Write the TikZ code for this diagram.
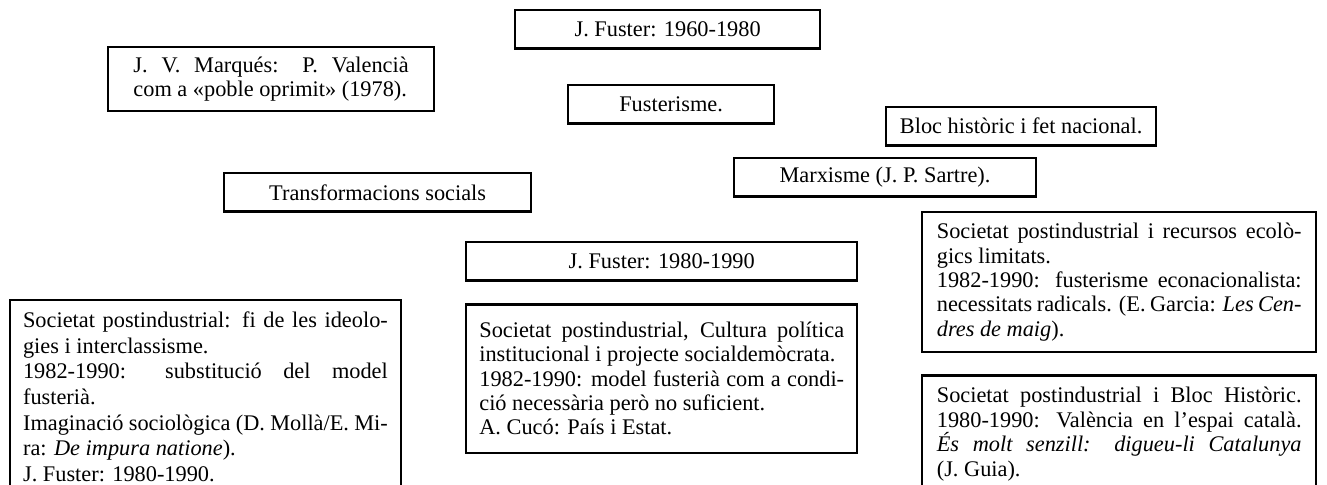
\documentclass[tikz,border=0pt]{standalone}
\usepackage{fontspec}
\setmainfont{Liberation Serif}
\usetikzlibrary{positioning}
\tolerance=10000
\hyphenpenalty=10000
\exhyphenpenalty=10000

\begin{document}
\begin{tikzpicture}[x=0.017cm,y=-0.017cm,font=\fontsize{10.8}{11.8}\selectfont,
                    title node/.style={draw,line width=1.1pt,anchor=north west,minimum height=0.65cm,inner sep=0pt},
                    text node/.style={draw,line width=1.1pt,anchor=north west,text width=6.2cm,align=justify,inner sep=0pt}]
\useasboundingbox[fill=white] (0,0) rectangle (1327,485);

\node[title node,minimum width=5.185cm] (1) at (514,9) {J. Fuster: 1960-1980};
\node[text node,text width=4.68cm,minimum width=5.54cm,minimum height=1.09cm] (2) at (107,46)
  {J. V. Marqués: P. Valencià\linebreak com a «poble oprimit» (1978).};
\node[title node,minimum width=3.5cm] (3) at (567,84) {Fusterisme.};
\node[title node,minimum width=4.59cm] (4) at (885,106) {Bloc històric i fet nacional.};
\node[title node,minimum width=5.13cm] (5) at (733,157) {Marxisme (J. P. Sartre).};
\node[title node,minimum width=5.22cm] (6) at (223,172) {Transformacions socials};
\node[title node,minimum width=6.65cm] (7) at (465,241) {J. Fuster: 1980-1990};

\node[text node,font=\fontsize{10.8}{12.4}\selectfont,inner xsep=0.22cm,inner ysep=0.2cm,text depth=3.6cm] (8) at (9,299)
  {Societat postindustrial: fi de les ideolo-\linebreak gies i interclassisme.\\
   1982-1990: substitució del model\linebreak fusterià.\\
   Imaginació sociològica (D. Mollà/E. Mi-\linebreak ra: \textit{De impura natione}).\\
   J. Fuster: 1980-1990.};
\node[text node,minimum width=6.65cm,minimum height=2.52cm] (9) [below=0.37cm of 7]
  {Societat postindustrial, Cultura política\linebreak institucional i projecte socialdemòcrata.\\
   1982-1990: model fusterià com a condi-\linebreak ció necessària però no suficient.\\
   A. Cucó: País i Estat.};

\node[text node,minimum width=6.7cm,minimum height=2.38cm] (10) at (921,211)
  {Societat postindustrial i recursos ecolò-\linebreak gics limitats.\\
   1982-1990: fusterisme econacionalista:\linebreak necessitats radicals. (E. Garcia: \textit{Les Cen-}\linebreak
   \textit{dres de maig}).};
\node[text node,inner xsep=0.25cm,inner ysep=0.2cm,text depth=2.5cm] (11) [below=0.36cm of 10]
  {Societat postindustrial i Bloc Històric.\linebreak 1980-1990: València en l’espai català.\linebreak
   \textit{És molt senzill: digueu-li Catalunya}\linebreak (J. Guia).};
\end{tikzpicture}
\end{document}
